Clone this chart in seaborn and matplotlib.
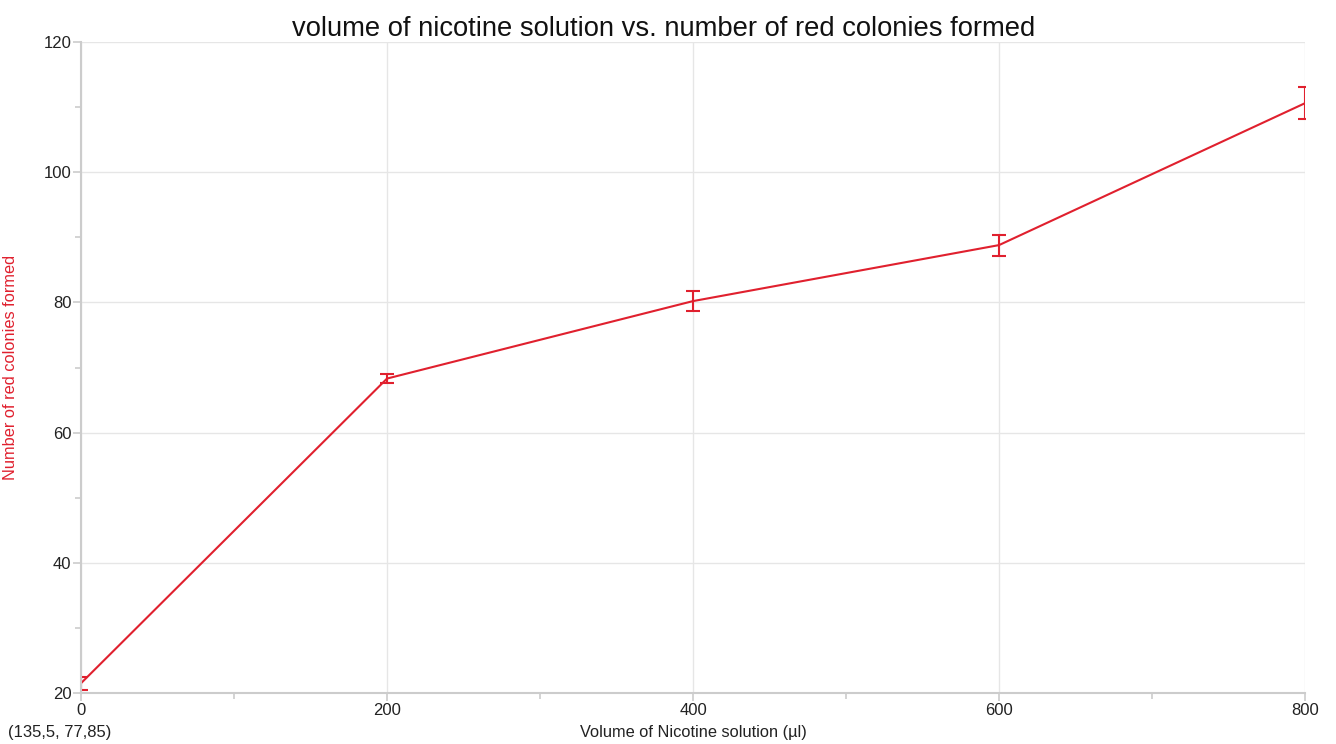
import matplotlib
matplotlib.use("Agg")
import matplotlib.pyplot as plt
import seaborn as sns
import pandas as pd
from matplotlib.ticker import MultipleLocator

volume = [0, 200, 400, 600, 800]
colonies = [21.5, 68.3, 80.2, 88.8, 110.6]
err = [1.0, 0.7, 1.5, 1.6, 2.5]

sns.set_theme(style="white")
plt.rcParams['font.family'] = ['Liberation Sans', 'DejaVu Sans']

red = "#e0202e"
grid_c = "#e6e6e6"
spine_c = "#cccccc"

W, H = 1336, 744
fig = plt.figure(figsize=(W/100, H/100), dpi=100)
ax = fig.add_axes([81/W, 51/H, (1305-81)/W, (693-42)/H])

df = pd.DataFrame({"volume": volume, "colonies": colonies})
sns.lineplot(data=df, x="volume", y="colonies", ax=ax, color=red, linewidth=1.5)
ax.errorbar(volume, colonies, yerr=err, fmt="none", ecolor=red, elinewidth=1.5,
            capsize=5, capthick=1.5, clip_on=True)

ax.set_xlim(0, 800)
ax.set_ylim(20, 120)
ax.xaxis.set_major_locator(MultipleLocator(200))
ax.xaxis.set_minor_locator(MultipleLocator(100))
ax.yaxis.set_major_locator(MultipleLocator(20))
ax.yaxis.set_minor_locator(MultipleLocator(10))
ax.grid(True, which="major", color=grid_c, linewidth=1)
ax.set_axisbelow(True)
for s in ax.spines.values():
    s.set_visible(False)
for side in ("left", "bottom"):
    ax.spines[side].set_visible(True)
    ax.spines[side].set_color(spine_c)
    ax.spines[side].set_linewidth(1.5)
ax.tick_params(which="both", direction="out", color=spine_c, width=1.2,
               bottom=True, left=True, labelsize=12, labelcolor="#222222")
ax.tick_params(which="major", length=6, pad=1)
ax.tick_params(which="minor", length=4)

ax.set_xlabel("Volume of Nicotine solution (µl)", fontsize=11.8, color="#222222", labelpad=5)
ax.set_ylabel("Number of red colonies formed", fontsize=11.8, color=red)
ax.yaxis.set_label_coords(18/W, 1 - 367/H, transform=fig.transFigure)
ax.set_title("volume of nicotine solution vs. number of red colonies formed",
             fontsize=19.7, color="#111111", pad=4, x=(664 - 81)/(1305 - 81))
fig.text(8/W, 1 - 737/H, "(135,5, 77,85)", fontsize=12, color="#222222",
         ha="left", va="baseline")

fig.savefig("out.png", dpi=100)
